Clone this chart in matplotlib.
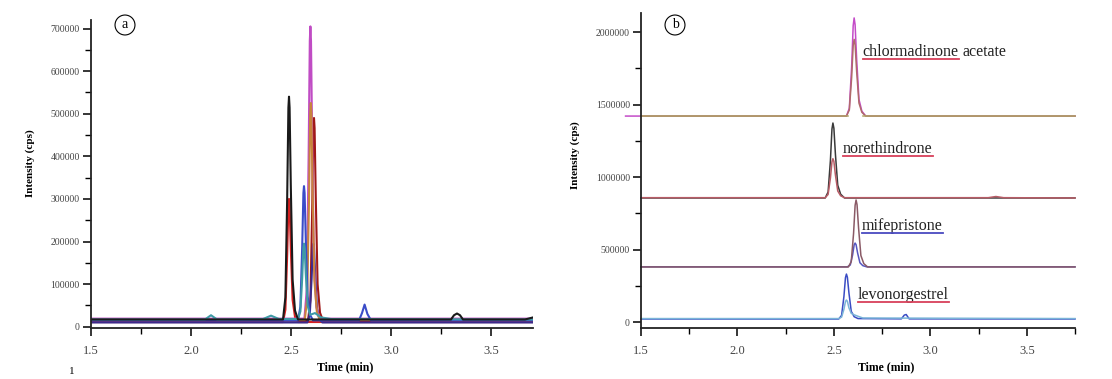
import matplotlib
matplotlib.use('Agg')
import matplotlib.pyplot as plt
import matplotlib.transforms as mtrans
from matplotlib.ticker import MultipleLocator
from matplotlib.lines import Line2D

plt.rcParams['font.family'] = ['Liberation Serif', 'DejaVu Serif']
nan = float('nan')

# ---- panel (a): overlaid chromatograms ----
a_black_t = [1.50, 2.46, 2.472, 2.481, 2.487, 2.49, 2.493, 2.499, 2.508, 2.52, 2.535,
             3.30, 3.315, 3.33, 3.345, 3.36, 3.67, 3.72]
a_black_i = [17000, 17000, 69000, 305000, 514000, 540000, 514000, 331000, 111000, 38000, 17000,
             17000, 27000, 31000, 27000, 17000, 17000, 23000]

a_red_t = [1.50, 2.46, 2.472, 2.481, 2.487, 2.49, 2.493, 2.499, 2.508, 2.52, 2.535, 3.72]
a_red_i = [11000, 11000, 40000, 170000, 286000, 300000, 286000, 184000, 63000, 23000, 11000, 11000]

a_blue_t = [1.50, 2.535, 2.547, 2.556, 2.562, 2.565, 2.568, 2.574, 2.583, 2.595, 2.61,
            2.84, 2.855, 2.868, 2.882, 2.90, 3.72]
a_blue_i = [15000, 15000, 47000, 188000, 314000, 330000, 314000, 204000, 72000, 28000, 15000,
            15000, 32000, 52000, 30000, 15000, 15000]

a_teal_t = [1.50, 2.07, 2.10, 2.13, 2.36, 2.40, 2.44, 2.535, 2.547, 2.556, 2.562, 2.565,
            2.568, 2.574, 2.583, 2.595, 2.62, 2.65, 2.70, 3.72]
a_teal_i = [17000, 17000, 27000, 17000, 18000, 26000, 18000, 18000, 36000, 115000, 186000, 195000,
            186000, 124000, 50000, 28000, 32000, 22000, 18000, 17000]

a_mag_t = [1.50, 2.567, 2.579, 2.588, 2.594, 2.597, 2.600, 2.606, 2.615, 2.627, 2.642, 3.72]
a_mag_i = [19000, 19000, 88000, 396000, 671000, 705000, 671000, 431000, 142000, 46000, 19000, 19000]

a_orange_t = [1.50, 2.569, 2.581, 2.590, 2.596, 2.599, 2.602, 2.608, 2.617, 2.629, 2.644, 3.72]
a_orange_i = [16000, 16000, 67000, 296000, 500000, 525000, 500000, 321000, 108000, 36000, 16000, 16000]

a_dred_t = [1.50, 2.585, 2.597, 2.606, 2.612, 2.615, 2.618, 2.624, 2.633, 2.645, 2.66, 3.72]
a_dred_i = [14000, 14000, 62000, 276000, 466000, 490000, 466000, 300000, 100000, 33000, 14000, 14000]

a_navy_t = [1.50, 2.582, 2.594, 2.603, 2.609, 2.612, 2.615, 2.621, 2.630, 2.642, 2.657, 3.72]
a_navy_i = [10000, 10000, 29000, 112000, 186000, 195000, 186000, 121000, 43000, 17000, 10000, 10000]

a_traces = [
    (a_red_t, a_red_i, '#d42020'),
    (a_dred_t, a_dred_i, '#a01818'),
    (a_navy_t, a_navy_i, '#3b2a8c'),
    (a_mag_t, a_mag_i, '#c04cc4'),
    (a_orange_t, a_orange_i, '#c8843c'),
    (a_blue_t, a_blue_i, '#3a4cc8'),
    (a_teal_t, a_teal_i, '#3f9aa6'),
    (a_black_t, a_black_i, '#1a1a1a'),
]

# ---- panel (b): stacked chromatograms ----
b_chl_mag_t = [1.42, 2.565, 2.58, 2.592, 2.60, 2.605, 2.61, 2.618, 2.63, 2.645, 2.665, 3.75]
b_chl_mag_i = [1421000, 1421000, 1475000, 1759000, 2044000, 2098000, 2051000, 1814000, 1536000,
               1455000, 1421000, 1421000]
b_chl_t = [1.50, 2.565, 2.58, 2.592, 2.60, 2.605, 2.61, 2.618, 2.63, 2.645, 2.665, 3.75]
b_chl_i = [1421000, 1421000, 1463000, 1686000, 1908000, 1950000, 1913000, 1728000, 1511000,
           1447000, 1421000, 1421000]
b_chl_base_t = [1.50, 2.572, nan, 2.65, 3.75]
b_chl_base_i = [1421000, 1421000, nan, 1421000, 1421000]

b_nor_blk_t = [1.50, 2.455, 2.47, 2.482, 2.49, 2.495, 2.50, 2.508, 2.52, 2.535, 2.555, 3.75]
b_nor_blk_i = [856000, 856000, 897000, 1115000, 1332000, 1373000, 1337000, 1156000, 944000,
               882000, 856000, 856000]
b_nor_red_t = [1.50, 2.455, 2.47, 2.482, 2.49, 2.495, 2.50, 2.508, 2.52, 2.535, 2.555,
               3.30, 3.34, 3.38, 3.75]
b_nor_red_i = [858000, 858000, 880000, 993000, 1105000, 1127000, 1108000, 1014000, 904000,
               871000, 858000, 858000, 866000, 858000, 856000]

b_mif_brn_t = [1.50, 2.575, 2.59, 2.602, 2.61, 2.615, 2.62, 2.628, 2.64, 2.655, 2.675, 3.75]
b_mif_brn_i = [380000, 380000, 417000, 611000, 805000, 842000, 810000, 648000, 459000, 403000,
               380000, 380000]
b_mif_blu_t = [1.50, 2.57, 2.585, 2.597, 2.605, 2.61, 2.615, 2.623, 2.635, 2.65, 2.67, 3.75]
b_mif_blu_i = [381000, 381000, 394000, 463000, 532000, 545000, 534000, 476000, 409000, 389000,
               381000, 381000]

b_lev_blu_t = [1.50, 2.525, 2.54, 2.552, 2.56, 2.565, 2.57, 2.578, 2.59, 2.605, 2.625,
               2.85, 2.865, 2.875, 2.89, 3.75]
b_lev_blu_i = [21000, 21000, 46000, 176000, 306000, 331000, 309000, 201000, 74000, 37000, 24000,
               22000, 48000, 52000, 22000, 21000]
b_lev_lt_t = [1.50, 2.525, 2.54, 2.552, 2.56, 2.565, 2.57, 2.578, 2.59, 2.605, 2.625, 2.65, 3.75]
b_lev_lt_i = [24000, 24000, 34000, 88000, 142000, 152000, 143000, 98000, 60000, 50000, 40000,
              28000, 24000]

b_traces = [
    (b_chl_mag_t, b_chl_mag_i, '#c44cc8'),
    (b_chl_t, b_chl_i, '#b06a6a'),
    (b_chl_base_t, b_chl_base_i, '#b0a468'),
    (b_nor_blk_t, b_nor_blk_i, '#3a3a3a'),
    (b_nor_red_t, b_nor_red_i, '#b85c66'),
    (b_mif_blu_t, b_mif_blu_i, '#5656c0'),
    (b_mif_brn_t, b_mif_brn_i, '#8a5a66'),
    (b_lev_blu_t, b_lev_blu_i, '#3a4cc4'),
    (b_lev_lt_t, b_lev_lt_i, '#7ab4d8'),
]

# compound labels: (name, extra word, x, y, underline colour)
b_labels = [
    ('chlormadinone', 'acetate', 2.65, 1863000, '#d8405a'),
    ('norethindrone', '', 2.547, 1194000, '#d8405a'),
    ('mifepristone', '', 2.645, 662000, '#4a4ac0'),
    ('levonorgestrel', '', 2.624, 186000, '#d8405a'),
]

W, H = 1112, 379
fig = plt.figure(figsize=(W / 100, H / 100), dpi=100)

ax1 = fig.add_axes([91 / W, 1 - 328 / H, 442 / W, 308 / H])
ax2 = fig.add_axes([641 / W, 1 - 328 / H, 434 / W, 315 / H])


def style(ax, ymajor, yminor):
    for s in ['top', 'right']:
        ax.spines[s].set_visible(False)
    for s in ['left', 'bottom']:
        ax.spines[s].set_linewidth(1.3)
        ax.spines[s].set_color('#222222')
    ax.xaxis.set_major_locator(MultipleLocator(0.5))
    ax.xaxis.set_minor_locator(MultipleLocator(0.25))
    ax.yaxis.set_major_locator(MultipleLocator(ymajor))
    ax.yaxis.set_minor_locator(MultipleLocator(yminor))
    ax.xaxis.set_major_formatter(plt.FuncFormatter(lambda v, p: f'{v:.1f}'))
    ax.yaxis.set_major_formatter(plt.FuncFormatter(lambda v, p: f'{int(round(v))}'))
    ax.tick_params(axis='x', which='major', length=6, width=1.1, pad=6,
                   labelsize=9, labelcolor='#444444')
    ax.tick_params(axis='x', which='minor', length=4, width=1.0)
    ax.tick_params(axis='y', which='major', length=6, width=1.1, pad=2,
                   labelsize=7, labelcolor='#444444')
    ax.tick_params(axis='y', which='minor', length=4, width=1.0)


for t, v, c in a_traces:
    ax1.plot(t, v, color=c, lw=1.5)
style(ax1, 100000, 50000)
ax1.set_xlim(1.5, 3.71)
ax1.set_ylim(-3000, 720000)

for t, v, c in b_traces:
    ax2.plot(t, v, color=c, lw=1.1, clip_on=False)
style(ax2, 500000, 250000)
ax2.set_xlim(1.5, 3.75)
ax2.set_ylim(-41000, 2132000)

# axis titles
for ax, yx, yy in [(ax1, 30, 163), (ax2, 575, 155)]:
    tr = mtrans.blended_transform_factory(ax.transData, fig.transFigure)
    ax.text(2.77, 1 - 367 / H, 'Time (min)', transform=tr, ha='center', va='center',
            fontsize=8.5, fontweight='bold')
    fig.text(yx / W, 1 - yy / H, 'Intensity (cps)', rotation=90, ha='center',
             va='center', fontsize=8, fontweight='bold')

# circled panel letters
for letter, px, py in [('a', 125, 25), ('b', 675, 25)]:
    fig.text(px / W, 1 - py / H, letter, ha='center', va='center', fontsize=10,
             bbox=dict(boxstyle='circle,pad=0.25', facecolor='white',
                       edgecolor='black', linewidth=0.8))

fig.text(72 / W, 1 - 371 / H, '1', ha='center', va='center', fontsize=8)

# compound names in (b), underlined
fig.canvas.draw()
renderer = fig.canvas.get_renderer()
for name, extra, x, y, uc in b_labels:
    t = ax2.text(x, y, name, fontsize=11.5, ha='left', va='center', color='#222222')
    bb = t.get_window_extent(renderer)
    fig.add_artist(Line2D([bb.x0 / W, bb.x1 / W], [(bb.y0 + 1) / H, (bb.y0 + 1) / H],
                          color=uc, lw=1.3))
    if extra:
        fig.text((bb.x1 + 4) / W, (bb.y0 + bb.y1) / 2 / H, extra, fontsize=11.5,
                 ha='left', va='center', color='#222222')

fig.savefig('out.png', dpi=100)
